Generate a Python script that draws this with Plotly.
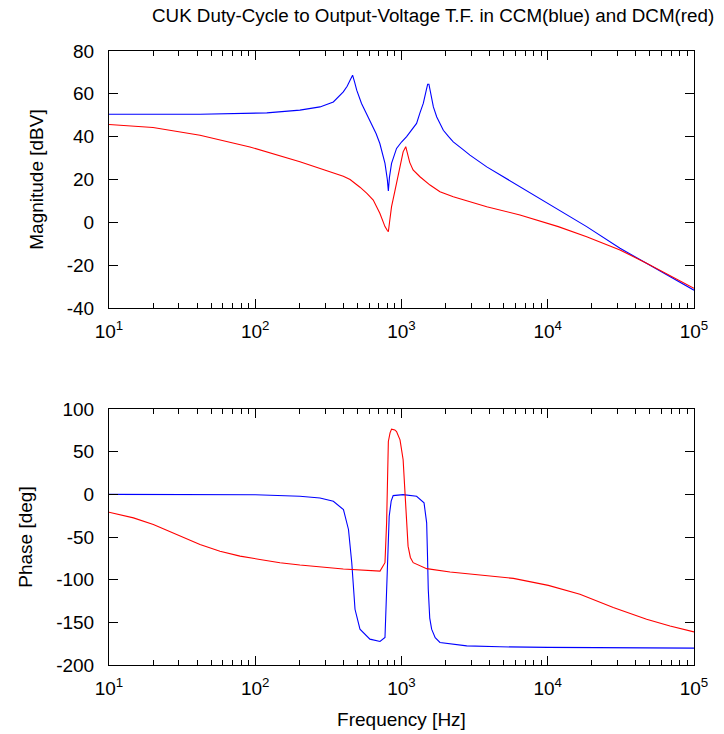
import plotly.graph_objects as go

# ---------------- data ----------------
# CCM (blue) magnitude
freq_mag_ccm = [10, 41.9, 120, 202, 277, 342, 400, 425, 445, 463, 478, 494, 533, 580, 625, 670, 711,
                771, 800, 813, 827, 855, 925, 1000, 1084, 1268, 1337, 1409, 1480, 1510, 1540, 1575,
                1652, 1742, 1932, 2100, 2259, 2600, 2938, 3828, 4966, 6457, 8395, 11800, 18450,
                31190, 47420, 100000]
mag_ccm = [50.5, 50.5, 51.1, 52.4, 53.9, 56.2, 60.9, 63.5, 66.3, 68.7, 65.5, 61.7, 55.5, 50.5, 46.2,
           41.5, 36.8, 27.5, 20.0, 14.6, 21.0, 27.5, 34.5, 37.5, 40.0, 46.2, 51.1, 55.5, 62.0, 64.5,
           64.5, 61.5, 53.9, 49.2, 43.0, 40.0, 37.6, 34.3, 31.4, 25.9, 21.3, 16.6, 11.9, 5.7, -2.0,
           -12.1, -19.1, -31.7]

# DCM (red) magnitude
freq_mag_dcm = [10, 20, 41.9, 92, 202, 277, 342, 400, 445, 490, 520, 580, 641, 711, 771, 800, 813,
                830, 855, 900, 948, 1026, 1069, 1100, 1138, 1200, 1268, 1337, 1567, 1832, 2259,
                3828, 6457, 11800, 18450, 31190, 47420, 100000]
mag_dcm = [45.7, 44.3, 40.7, 35.2, 28.3, 25.2, 22.9, 21.5, 20.0, 18.0, 16.4, 13.5, 10.4, 4.2, -2.0,
           -3.8, -4.4, 0.5, 7.3, 14.5, 21.3, 32.9, 35.3, 32.0, 28.0, 24.5, 22.8, 21.3, 17.4, 14.3,
           11.9, 7.3, 3.4, -2.0, -6.7, -12.9, -19.1, -30.8]

# CCM (blue) phase
freq_ph_ccm = [10, 100, 202, 277, 342, 401, 434, 457, 481, 520, 608, 713, 771, 790, 800, 812, 824,
               850, 877, 1026, 1268, 1426, 1486, 1505, 1524, 1560, 1607, 1700, 1832, 2793, 4710,
               10000, 100000]
ph_ccm = [0.0, -0.5, -2.3, -4.2, -8.2, -17.9, -41.2, -80.1, -134.7, -158.0, -169.7, -172.4, -167.8,
          -120.0, -72.4, -45.0, -25.7, -8.0, -1.5, -0.4, -2.3, -10.0, -33.4, -70.0, -111.3, -145.0,
          -158.0, -168.0, -173.6, -177.6, -178.7, -179.3, -180.2]

# DCM (red) phase
freq_ph_dcm = [10, 14.7, 20.1, 30.5, 41.9, 57.4, 78.7, 107.6, 147.6, 202, 277, 400, 713, 771, 791,
               813, 835, 855, 900, 925, 977, 1026, 1050, 1069, 1109, 1150, 1202, 1486, 2148, 3444,
               4710, 5821, 10090, 16600, 28050, 47420, 68550, 100000]
ph_dcm = [-21.0, -27.6, -35.4, -49.1, -58.8, -66.6, -72.4, -76.3, -80.1, -82.9, -85.3, -87.5, -90.0,
          -80.1, -33.4, 61.9, 72.0, 76.4, 75.5, 73.6, 63.9, 40.5, 10.0, -14.0, -60.7, -74.0, -80.1,
          -87.1, -91.1, -94.6, -96.5, -98.5, -106.7, -117.2, -132.7, -146.4, -154.2, -161.2]

# tick labels
x_tick_vals = [10, 100, 1000, 10000, 100000]
x_tick_text = ["10<sup>1</sup>", "10<sup>2</sup>", "10<sup>3</sup>", "10<sup>4</sup>", "10<sup>5</sup>"]
x_minor_vals = [k * 10 ** d for d in range(1, 5) for k in range(2, 10)]
mag_tick_vals = [-40, -20, 0, 20, 40, 60, 80]
mag_tick_text = ["-40", "-20", "0", "20", "40", "60", "80"]
ph_tick_vals = [-200, -150, -100, -50, 0, 50, 100]
ph_tick_text = ["-200", "-150", "-100", "-50", "0", "50", "100"]

title_text = "CUK Duty-Cycle to Output-Voltage T.F. in CCM(blue) and DCM(red)"

# ---------------- figure ----------------
FONT = "Liberation Sans, Arial, sans-serif"
BLUE = "#0000ff"
RED = "#ff0000"
LW = 1.1
FS = 19

# the page adds an 8 px body margin; size the figure so the frame lands where the reference has it
OFF = 8
W, H = 724 - OFF, 734 - OFF
# target pixel positions in the window
X_LEFT, X_RIGHT = 109, 694
Y_TOP1, Y_BOT1 = 51, 308
Y_TOP2, Y_BOT2 = 409, 665
ML = X_LEFT - OFF
MR = W - (X_RIGHT - OFF)
MT = Y_TOP1 - OFF
MB = H - (Y_BOT2 - OFF)
PH = H - MT - MB
PW = W - ML - MR


def py(px):
    return 1 - (px - OFF - MT) / PH


def px_x(px):
    return (px - OFF - ML) / PW


def xaxis_cfg(anchor, title=None):
    d = dict(type="log", range=[1, 5], anchor=anchor, domain=[0, 1],
             tickmode="array", tickvals=x_tick_vals, ticktext=x_tick_text,
             ticks="inside", ticklen=9, tickwidth=1, tickcolor="black",
             showline=True, linecolor="black", linewidth=1, mirror="allticks",
             showgrid=False, zeroline=False,
             tickfont=dict(family=FONT, size=FS, color="black"),
             ticklabelstandoff=6,
             minor=dict(tickmode="array", tickvals=x_minor_vals, ticks="inside", ticklen=5,
                        tickwidth=1, tickcolor="black", showgrid=False))
    if title:
        d["title"] = dict(text=title, font=dict(family=FONT, size=FS, color="black"), standoff=14)
    return d


def yaxis_cfg(anchor, domain, rng, vals, text, title):
    return dict(range=rng, anchor=anchor, domain=domain,
                tickmode="array", tickvals=vals, ticktext=text,
                ticks="inside", ticklen=9, tickwidth=1, tickcolor="black",
                showline=True, linecolor="black", linewidth=1, mirror="allticks",
                showgrid=False, zeroline=False,
                tickfont=dict(family=FONT, size=FS, color="black"),
                ticklabelstandoff=10,
                title=dict(text=title, font=dict(family=FONT, size=FS, color="black"), standoff=18))


fig = go.Figure()
fig.add_trace(go.Scatter(x=freq_mag_ccm, y=mag_ccm, mode="lines", line=dict(color=BLUE, width=LW),
                         xaxis="x", yaxis="y", showlegend=False))
fig.add_trace(go.Scatter(x=freq_mag_dcm, y=mag_dcm, mode="lines", line=dict(color=RED, width=LW),
                         xaxis="x", yaxis="y", showlegend=False))
fig.add_trace(go.Scatter(x=freq_ph_ccm, y=ph_ccm, mode="lines", line=dict(color=BLUE, width=LW),
                         xaxis="x2", yaxis="y2", showlegend=False))
fig.add_trace(go.Scatter(x=freq_ph_dcm, y=ph_dcm, mode="lines", line=dict(color=RED, width=LW),
                         xaxis="x2", yaxis="y2", showlegend=False))

fig.update_layout(
    width=W, height=H,
    margin=dict(l=ML, r=MR, t=MT, b=MB, autoexpand=False),
    paper_bgcolor="white", plot_bgcolor="white",
    font=dict(family=FONT, size=FS, color="black"),
    xaxis=xaxis_cfg("y"),
    yaxis=yaxis_cfg("x", [py(Y_BOT1), 1], [-40, 80], mag_tick_vals, mag_tick_text, "Magnitude [dBV]"),
    xaxis2=xaxis_cfg("y2", "Frequency [Hz]"),
    yaxis2=yaxis_cfg("x2", [0, py(Y_TOP2)], [-200, 100], ph_tick_vals, ph_tick_text, "Phase [deg]"),
    annotations=[dict(text=title_text, xref="paper", yref="paper",
                      x=px_x(433), y=py(16), xanchor="center", yanchor="middle",
                      showarrow=False, font=dict(family=FONT, size=18.8, color="black"))],
)

fig.write_html("out.html")
